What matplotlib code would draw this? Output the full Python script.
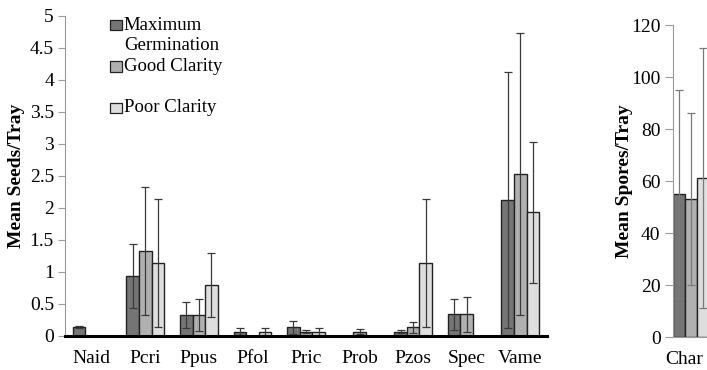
import matplotlib.pyplot as plt
import numpy as np
from matplotlib.patches import Rectangle

plt.rcParams["font.family"] = ["Liberation Serif", "DejaVu Serif"]

# seed data (left panel)
species = ["Naid", "Pcri", "Ppus", "Pfol", "Pric", "Prob", "Pzos", "Spec", "Vame"]
max_germ = [0.14, 0.93, 0.33, 0.07, 0.135, 0.0, 0.07, 0.34, 2.13]
max_germ_err = [0.02, 0.5, 0.2, 0.05, 0.1, 0.0, 0.03, 0.24, 2.0]
good_clar = [0.0, 1.33, 0.33, 0.0, 0.07, 0.07, 0.135, 0.34, 2.53]
good_clar_err = [0.0, 1.0, 0.25, 0.0, 0.02, 0.04, 0.09, 0.27, 2.2]
poor_clar = [0.0, 1.14, 0.79, 0.07, 0.07, 0.0, 1.14, 0.0, 1.93]
poor_clar_err = [0.0, 1.0, 0.5, 0.05, 0.05, 0.0, 1.0, 0.0, 1.1]

# spore data (right panel, cut off at the edge)
spore_cats = ["Char"]
spore_vals = [55, 53, 61]
spore_err = [40, 33, 50]

labels = ["Maximum\nGermination", "Good Clarity", "Poor Clarity"]
colors = ["#757575", "#b0b0b0", "#dedede"]
edge = "#222222"

fig = plt.figure(figsize=(7.07, 3.70), dpi=100)

# ---- left panel
ax = fig.add_axes([65 / 707, 34 / 370, 482 / 707, 320 / 370])
x = np.arange(len(species))
w = 0.235
series = [(max_germ, max_germ_err), (good_clar, good_clar_err), (poor_clar, poor_clar_err)]
for k, (vals, errs) in enumerate(series):
    pos = x + (k - 1) * w
    ax.bar(pos, vals, width=w, color=colors[k], edgecolor=edge, linewidth=1.0, zorder=2)
    m = np.array(vals) > 0
    ax.errorbar(pos[m], np.array(vals)[m], yerr=np.array(errs)[m], fmt="none",
                ecolor="#3a3a3a", elinewidth=0.9, capsize=3, capthick=0.9, zorder=3)

ax.set_xlim(-0.5, len(species) - 0.5)
ax.set_ylim(0, 5)
ax.set_yticks(np.arange(0, 5.01, 0.5))
ax.set_yticklabels([f"{v:g}" for v in np.arange(0, 5.01, 0.5)])
ax.set_xticks(x)
ax.set_xticklabels(species)
ax.tick_params(axis="x", length=0, pad=10, labelsize=14)
ax.tick_params(axis="y", length=5, color="#999999", width=0.8, pad=3, labelsize=14)
for s in ["top", "right"]:
    ax.spines[s].set_visible(False)
ax.spines["left"].set_color("#999999")
ax.spines["left"].set_linewidth(0.8)
ax.spines["bottom"].set_color("black")
ax.spines["bottom"].set_linewidth(2.2)
ax.spines["bottom"].set_zorder(4)
ax.set_ylabel("Mean Seeds/Tray", fontsize=14, fontweight="bold")
ax.yaxis.set_label_coords(-0.084, 0.5)

# legend drawn by hand (first label is two lines, box aligned with top line)
leg_y = [0.972, 0.841, 0.7125]
for k, lab in enumerate(labels):
    ax.add_patch(Rectangle((0.093, leg_y[k] - 0.017), 0.025, 0.034, transform=ax.transAxes,
                           facecolor=colors[k], edgecolor=edge, linewidth=0.9, clip_on=False))
    if "\n" in lab:
        ax.text(0.122, leg_y[k] + 0.024, lab, transform=ax.transAxes, fontsize=13.5,
                va="top", ha="left", linespacing=1.2)
    else:
        ax.text(0.122, leg_y[k], lab, transform=ax.transAxes, fontsize=13.5,
                va="center", ha="left")

# ---- right panel
ax2 = fig.add_axes([673 / 707, 33 / 370, 71 / 707, 312 / 370])
bw = 1.0
bx = np.arange(len(spore_vals)) * bw + bw / 2
for k in range(len(spore_vals)):
    ax2.bar(bx[k], spore_vals[k], width=bw, color=colors[k], edgecolor=edge, linewidth=1.0, zorder=2)
ax2.errorbar(bx, spore_vals, yerr=spore_err, fmt="none", ecolor="#7a7a7a",
             elinewidth=0.9, capsize=3, capthick=0.9, zorder=3)
ax2.set_xlim(0, 6)
ax2.set_ylim(0, 120)
ax2.set_yticks(np.arange(0, 121, 20))
ax2.set_xticks([0.95])
ax2.set_xticklabels(spore_cats)
ax2.tick_params(axis="x", length=0, pad=10, labelsize=14)
ax2.tick_params(axis="y", length=6, color="#999999", width=0.8, pad=3, labelsize=14)
for s in ["top", "right"]:
    ax2.spines[s].set_visible(False)
for s in ["left", "bottom"]:
    ax2.spines[s].set_color("#999999")
    ax2.spines[s].set_linewidth(0.8)
ax2.set_ylabel("Mean Spores/Tray", fontsize=14, fontweight="bold")
ax2.yaxis.set_label_coords(-0.56, 0.5)

fig.savefig("out.png", dpi=100)
